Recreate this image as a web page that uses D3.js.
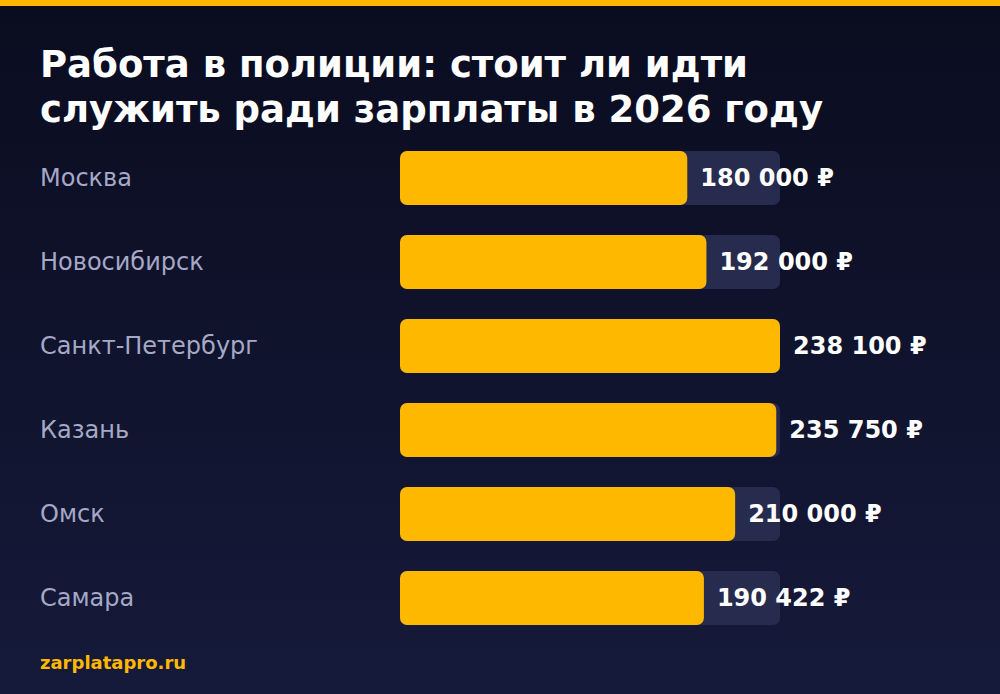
<!DOCTYPE html>
<html><head><meta charset="utf-8">
<script src="https://cdn.jsdelivr.net/npm/d3@7"></script>
<style>body{margin:0;background:#0d1024}svg{display:block}</style>
</head><body>
<script>
const cities = ["Москва","Новосибирск","Санкт-Петербург","Казань","Омск","Самара"];
const salaries = [180000,192000,238100,235750,210000,190422];
const valueLabels = ["180 000 ₽","192 000 ₽","238 100 ₽","235 750 ₽","210 000 ₽","190 422 ₽"];
const titleLines = ["Работа в полиции: стоит ли идти","служить ради зарплаты в 2026 году"];
const footer = "zarplatapro.ru";

const W=1000,H=694;
const svg=d3.select("body").append("svg").attr("width",W).attr("height",H);
const defs=svg.append("defs");
const g=defs.append("linearGradient").attr("id","bg").attr("x1",0).attr("y1",0).attr("x2",0).attr("y2",1);
g.append("stop").attr("offset","0").attr("stop-color","#0a0c1f");
g.append("stop").attr("offset","1").attr("stop-color","#161a3a");
svg.append("rect").attr("width",W).attr("height",H).attr("fill","url(#bg)");
svg.append("rect").attr("width",W).attr("height",6).attr("fill","#ffb800");

const font="'DejaVu Sans', sans-serif";
svg.selectAll(".t").data(titleLines).enter().append("text")
 .attr("x",40).attr("y",(d,i)=>77+i*45).attr("fill","#fff")
 .attr("font-family",font).attr("font-weight","bold").attr("font-size",37).text(d=>d);

const x=d3.scaleLinear().domain([0,d3.max(salaries)]).range([0,380]);
const y=d3.scaleBand().domain(cities).range([136,640]).paddingInner(30/84).paddingOuter(15/84);
const x0=400;
const rows=svg.selectAll(".r").data(cities).enter().append("g")
 .attr("transform",d=>`translate(0,${y(d)})`);
rows.append("text").attr("x",40).attr("y",y.bandwidth()/2).attr("dy","0.35em")
 .attr("fill","#a6a9c6").attr("font-family",font).attr("font-size",24).text(d=>d);
rows.append("rect").attr("x",x0).attr("width",x.range()[1]).attr("height",y.bandwidth())
 .attr("rx",7).attr("fill","#272c4e");
rows.append("rect").attr("x",x0).attr("width",(d,i)=>x(salaries[i])).attr("height",y.bandwidth())
 .attr("rx",7).attr("fill","#ffb800");
rows.append("text").attr("x",(d,i)=>x0+x(salaries[i])+13).attr("y",y.bandwidth()/2).attr("dy","0.35em")
 .attr("fill","#fff").attr("font-family",font).attr("font-weight","bold").attr("font-size",24)
 .text((d,i)=>valueLabels[i]);

svg.append("text").attr("x",40).attr("y",669).attr("fill","#ffb800")
 .attr("font-family",font).attr("font-weight","bold").attr("font-size",18).text(footer);
</script>
</body></html>
